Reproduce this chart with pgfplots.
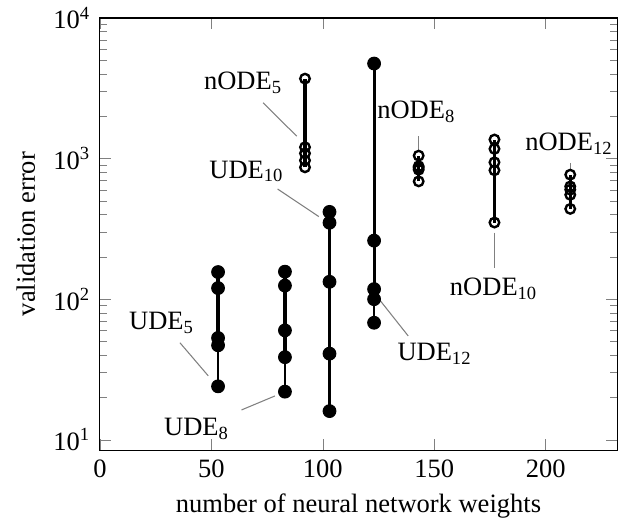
\documentclass[border=0pt]{standalone}
\usepackage{fontspec}
\setmainfont{Liberation Serif}
\usepackage{pgfplots}
\pgfplotsset{compat=1.18}
\tikzset{
  thinline/.style={black, line width=0.5pt, mark=none},
  thickline/.style={black, line width=1.2pt, mark=none},
  udemark/.style={only marks, mark=*, mark size=2.4pt, black},
  nodemark/.style={only marks, mark=o, mark size=1.8pt, black, mark options={line width=0.9pt}},
  lead/.style={gray, line width=0.4pt},
}
\begin{document}
\begin{tikzpicture}
\begin{axis}[
  name=ax,
  width=195.1pt, height=163pt, scale only axis,
  ymode=log, xmin=0, xmax=232, ymin=8.45, ymax=10000,
  xtick={0,50,100,150,200},
  ytick={10,100,1000,10000},
  yticklabels={10\textsuperscript{1},10\textsuperscript{2},10\textsuperscript{3},10\textsuperscript{4}},
  xlabel={number of neural network weights},
  ylabel={validation error},
  xlabel style={yshift=0.8pt},
  /pgf/number format/assume math mode=true,
  tick align=inside,
  clip=false,
]
% UDE lines
\addplot[thinline] coordinates {(53,24) (53,47)};
\addplot[thickline] coordinates {(53,47) (53,156)};
\addplot[thinline] coordinates {(83,22) (83,38.7)};
\addplot[thickline] coordinates {(83,38.7) (83,157)};
\addplot[thickline] coordinates {(103,16) (103,418)};
\addplot[thinline] coordinates {(123,68) (123,100)};
\addplot[thickline] coordinates {(123,100) (123,4745)};
% nODE lines
\addplot[thickline] coordinates {(92,867) (92,3707)};
\addplot[thickline] coordinates {(143,689) (143,1050)};
\addplot[thickline] coordinates {(177,351) (177,1367)};
\addplot[thickline] coordinates {(211,439) (211,769)};
% UDE marks
\addplot[udemark] coordinates {(53,24) (53,47) (53,53) (53,120) (53,156)};
\addplot[udemark] coordinates {(83,22) (83,38.7) (83,60) (83,125) (83,157)};
\addplot[udemark] coordinates {(103,16) (103,41) (103,133) (103,350) (103,418)};
\addplot[udemark] coordinates {(123,68) (123,100) (123,118) (123,261) (123,4745)};
% nODE marks
\addplot[nodemark] coordinates {(92,867) (92,970) (92,1090) (92,1205) (92,3707)};
\addplot[nodemark] coordinates {(143,689) (143,834) (143,860) (143,882) (143,1050)};
\addplot[nodemark] coordinates {(177,351) (177,826) (177,941) (177,1173) (177,1367)};
\addplot[nodemark] coordinates {(211,439) (211,553) (211,601) (211,634) (211,769)};
% labels
\node at (axis cs:64.3,3474) {nODE\textsubscript{5}};
\draw[lead] (axis cs:73.2,2500) -- (axis cs:88.3,1443);
\node at (axis cs:65.8,811) {UDE\textsubscript{10}};
\draw[lead] (axis cs:79.7,608) -- (axis cs:98.2,387);
\node at (axis cs:27.7,68) {UDE\textsubscript{5}};
\draw[lead] (axis cs:35.9,49) -- (axis cs:48.6,28.5);
\node at (axis cs:43.4,11.9) {UDE\textsubscript{8}};
\draw[lead] (axis cs:63.5,16.3) -- (axis cs:78.5,20.5);
\node[anchor=west] at (axis cs:129.3,40.6) {UDE\textsubscript{12}};
\draw[lead] (axis cs:125.6,98.4) -- (axis cs:138.3,54.8);
\node at (axis cs:142,2163) {nODE\textsubscript{8}};
\draw[lead] (axis cs:143,1440) -- (axis cs:143,1110);
\node at (axis cs:176.7,118) {nODE\textsubscript{10}};
\draw[lead] (axis cs:177,297) -- (axis cs:177,168);
\node at (axis cs:210.5,1276) {nODE\textsubscript{12}};
\draw[lead] (axis cs:211,931) -- (axis cs:211,830);
\end{axis}
\pgfresetboundingbox
\path[use as bounding box] ([shift={(-37.7pt,-26pt)}]ax.south west) rectangle ([shift={(7.9pt,6.8pt)}]ax.north east);
\end{tikzpicture}
\end{document}
